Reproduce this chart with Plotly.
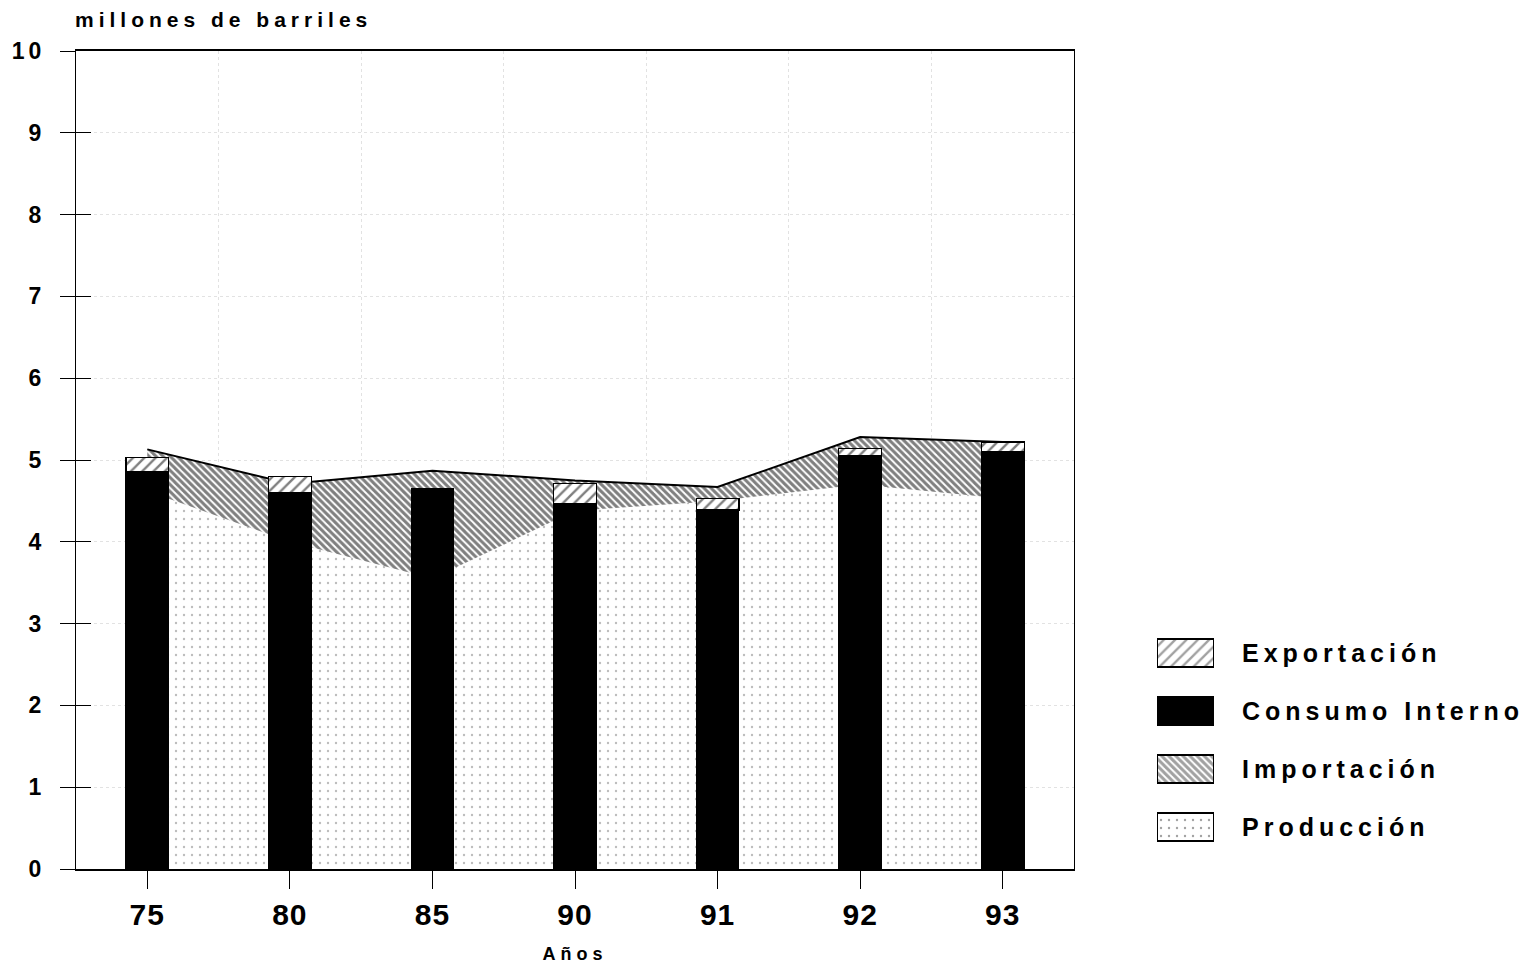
import plotly.graph_objects as go

anios = ["75", "80", "85", "90", "91", "92", "93"]
produccion = [4.62, 4.00, 3.55, 4.38, 4.50, 4.70, 4.53]
importacion = [0.51, 0.71, 1.32, 0.37, 0.17, 0.58, 0.69]
consumo_interno = [4.86, 4.60, 4.65, 4.47, 4.39, 5.05, 5.10]
exportacion = [0.17, 0.20, 0.00, 0.24, 0.14, 0.09, 0.12]
y_ticks = [0, 1, 2, 3, 4, 5, 6, 7, 8, 9, 10]
grid_between = [0.5, 1.5, 2.5, 3.5, 4.5, 5.5]

# legend key (drawn as a small bar chart of equal-length swatches)
legend_names = ["Exportación", "Consumo Interno", "Importación", "Producción"]
legend_swatch = [1, 1, 1, 1]

FONT = "Liberation Sans"

# page geometry (the page body adds an 8px offset)
W, H = 1522, 961
ML, MT, MB, MR = 68, 43, 100, 8
plot_w = W - ML - MR
main_frac = 998 / plot_w


def xfrac(px):
    return (px - 8 - ML) / plot_w


def yfrac(py):
    return (869 - py) / 818


fig = go.Figure()

PAT_PROD = dict(shape=".", fgcolor="#7a7a7a", bgcolor="white", size=8, solidity=0.07)
PAT_IMP = dict(shape="\\", fgcolor="black", bgcolor="white", size=5, solidity=0.6)
PAT_EXP = dict(shape="/", fgcolor="black", bgcolor="white", size=8, solidity=0.3)

fig.add_trace(go.Scatter(
    x=anios, y=produccion, name="Producción", stackgroup="area",
    mode="lines", line=dict(color="black", width=0),
    fillcolor="white", fillpattern=PAT_PROD, showlegend=False,
    xaxis="x", yaxis="y",
))
fig.add_trace(go.Scatter(
    x=anios, y=importacion, name="Importación", stackgroup="area",
    mode="lines", line=dict(color="black", width=2),
    fillcolor="white", fillpattern=PAT_IMP, showlegend=False,
    xaxis="x", yaxis="y",
))

fig.add_trace(go.Bar(
    x=anios, y=consumo_interno, name="Consumo Interno", width=0.3,
    marker=dict(color="black", line=dict(color="black", width=1)),
    showlegend=False, xaxis="x2", yaxis="y2",
))
fig.add_trace(go.Bar(
    x=anios, y=exportacion, name="Exportación", width=0.3,
    marker=dict(color="white", line=dict(color="black", width=1.2), pattern=PAT_EXP),
    showlegend=False, xaxis="x2", yaxis="y2",
))

fig.add_trace(go.Scatter(x=[None], y=[None], xaxis="x3", yaxis="y",
                         showlegend=False, hoverinfo="skip"))

# legend key
fig.add_trace(go.Bar(
    y=legend_names, x=legend_swatch, orientation="h", width=0.48,
    marker=dict(
        color=["white", "black", "white", "white"],
        line=dict(color="black", width=1.2),
        pattern=dict(
            shape=[PAT_EXP["shape"], "", PAT_IMP["shape"], PAT_PROD["shape"]],
            fgcolor=["black", "black", "black", PAT_PROD["fgcolor"]],
            bgcolor=["white", "black", "white", "white"],
            size=[PAT_EXP["size"], 8, PAT_IMP["size"], PAT_PROD["size"]],
            solidity=[PAT_EXP["solidity"], 0.5, PAT_IMP["solidity"], PAT_PROD["solidity"]],
        ),
    ),
    showlegend=False, hoverinfo="skip", xaxis="x4", yaxis="y4",
))

fig.update_layout(
    width=W, height=H,
    margin=dict(l=ML, r=MR, t=MT, b=MB, autoexpand=False),
    paper_bgcolor="white", plot_bgcolor="white",
    barmode="stack",
    showlegend=False,
    font=dict(family=FONT, color="black"),
    title=dict(text="millones de barriles", x=(75 - 8) / W, xanchor="left", xref="container",
               y=1 - (20 - 8) / H, yanchor="middle", yref="container",
               font=dict(family=FONT, size=21, color="black", weight="bold")),
    xaxis=dict(
        domain=[0, main_frac], automargin=False,
        type="category", categoryorder="array", categoryarray=anios,
        range=[-0.5, 6.5], showgrid=False,
        showline=True, linecolor="black", linewidth=1.5, mirror=True,
        ticks="outside", ticklen=18, tickcolor="black", tickwidth=1,
        tickfont=dict(family=FONT, size=30, color="black", weight="bold"),
        title=dict(text="Años", font=dict(family=FONT, size=18, color="black", weight="bold"),
                   standoff=18),
        zeroline=False,
    ),
    yaxis=dict(
        range=[0, 10], tickvals=y_ticks, showgrid=True, automargin=False,
        gridcolor="#e2e2e2", griddash="dot", gridwidth=1,
        showline=True, linecolor="black", linewidth=1.2, mirror=True,
        ticks="outside", ticklen=15, tickcolor="black", tickwidth=1,
        ticklabelstandoff=10,
        tickfont=dict(family=FONT, size=23, color="black", weight="bold"),
        zeroline=False,
    ),
    xaxis2=dict(
        type="category", categoryorder="array", categoryarray=anios,
        range=[-0.5, 6.5], overlaying="x", visible=False,
    ),
    yaxis2=dict(
        range=[0, 10], overlaying="y", side="left", tickvals=y_ticks, automargin=False,
        ticks="inside", ticklen=15, tickcolor="black", tickwidth=1,
        showticklabels=False, showgrid=False, showline=False, zeroline=False,
    ),
    xaxis3=dict(
        range=[-0.5, 6.5], overlaying="x", tickvals=grid_between, automargin=False,
        showgrid=True, gridcolor="#e2e2e2", griddash="dot", gridwidth=1,
        showticklabels=False, ticks="", showline=False, zeroline=False,
    ),
    xaxis4=dict(
        domain=[xfrac(1157), xfrac(1214)], anchor="y4", range=[0, 1],
        visible=False, fixedrange=True,
    ),
    yaxis4=dict(
        domain=[yfrac(856), yfrac(624)], anchor="x4", side="right", automargin=False,
        type="category", categoryorder="array", categoryarray=legend_names,
        autorange="reversed", showgrid=False, showline=False, zeroline=False,
        ticks="outside", ticklen=22, tickcolor="rgba(0,0,0,0)",
        tickfont=dict(family=FONT, size=25, color="black", weight="bold"),
        fixedrange=True,
    ),
)

post_js = """
(function(){
  var gd = document.getElementById('{plot_id}');
  function apply(){
    var set = function(sel, v){
      document.querySelectorAll(sel).forEach(function(e){ e.style.letterSpacing = v; });
    };
    set('.g-gtitle text', '5px');
    set('.g-xtitle text', '5px');
    set('.y4tick text', '5px');
    set('.ytick text', '4px');
    set('.xtick text', '1px');
  }
  apply();
  if (gd && gd.on) { gd.on('plotly_afterplot', apply); }
  setTimeout(apply, 50); setTimeout(apply, 300);
})();
"""

fig.write_html("out.html", post_script=post_js)
